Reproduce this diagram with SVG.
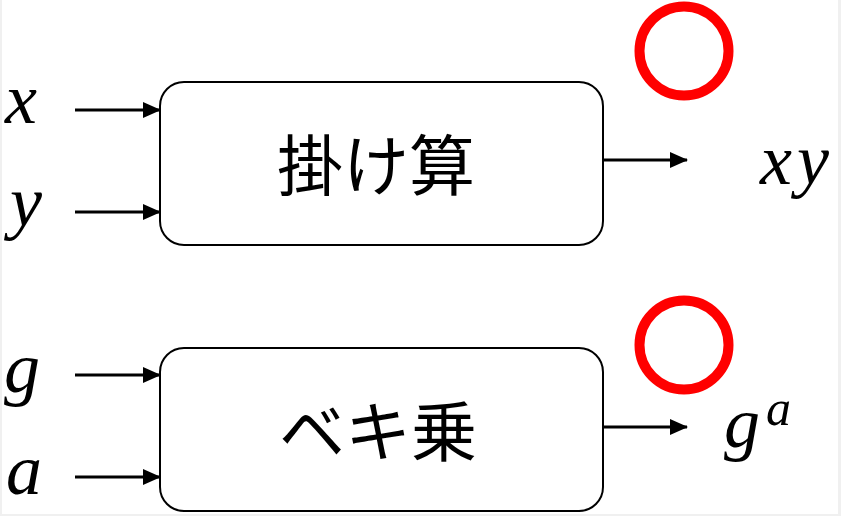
<svg xmlns="http://www.w3.org/2000/svg" width="841" height="516" viewBox="0 0 841 516">
<defs>
<marker id="ah2" viewBox="0 0 18 16" markerWidth="18" markerHeight="16" refX="17" refY="8" orient="auto" markerUnits="userSpaceOnUse">
<path d="M0,0 L18,8 L0,16 Z" fill="#000"/>
</marker>
</defs>
<style>
.box{fill:#fff;stroke:#000;stroke-width:2}
.edge{stroke:#000;stroke-width:3;fill:none;marker-end:url(#ah2)}
.jp{font-family:"Noto Sans CJK JP","Noto Sans CJK SC",sans-serif;font-size:66px;fill:#000;text-anchor:middle}
.m{font-family:"Liberation Serif","DejaVu Serif",serif;font-style:italic;font-size:72px;fill:#000}
.ok{fill:none;stroke:#ff0000;stroke-width:10}
</style>
<rect x="0" y="0" width="841" height="516" fill="#f0f0f0"/>
<rect x="2" y="0" width="836" height="514" fill="#fff"/>
<g id="connectors">
<line class="edge" x1="75" y1="110" x2="160" y2="110"/>
<line class="edge" x1="75" y1="212" x2="160" y2="212"/>
<line class="edge" x1="603" y1="160" x2="687" y2="160"/>
<line class="edge" x1="75" y1="375" x2="160" y2="375"/>
<line class="edge" x1="75" y1="477" x2="160" y2="477"/>
<line class="edge" x1="603" y1="427" x2="687" y2="427"/>
</g>
<g id="mul">
<rect class="box" x="160" y="82" width="443" height="163" rx="24"/>
<text class="jp" x="376" y="190">掛け算</text>
</g>
<g id="pow">
<rect class="box" x="160" y="348" width="443" height="163" rx="24"/>
<text class="jp" x="378" y="456">ベキ乗</text>
</g>
<g id="in-x"><text class="m" x="5" y="123">x</text></g>
<g id="in-y"><text class="m" x="10" y="226">y</text></g>
<g id="in-g"><text class="m" x="4" y="392">g</text></g>
<g id="in-a"><text class="m" x="6" y="494">a</text></g>
<g id="out-xy"><text class="m" x="760" y="184" letter-spacing="5">xy</text></g>
<g id="out-ga"><text class="m" x="724" y="447">g<tspan font-size="50" dx="6" dy="-22">a</tspan></text></g>
<g id="ok1"><circle class="ok" cx="684" cy="51" r="44.5"/></g>
<g id="ok2"><circle class="ok" cx="684" cy="345" r="44.5"/></g>
</svg>
